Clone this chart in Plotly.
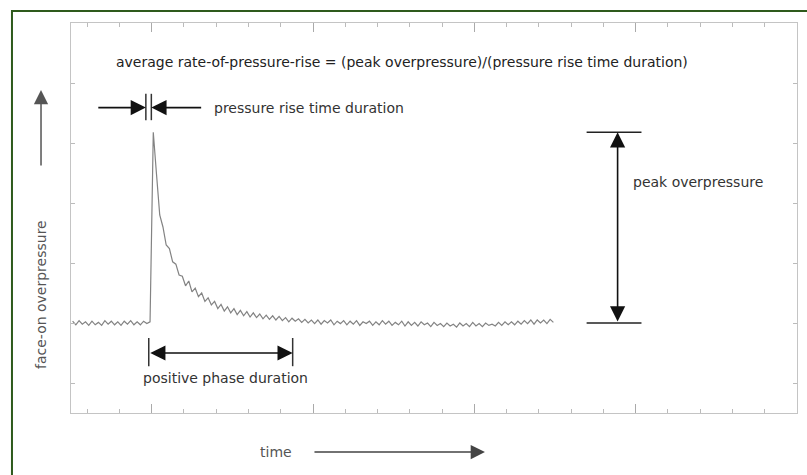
import plotly.graph_objects as go

# ---- data ----
time_start = -2.45
time_step = 0.1
pressure_pre = [0.03, -0.03, 0.04, -0.02, 0.02, -0.04, 0.03, -0.03, 0.01, -0.04,
                0.04, -0.02, 0.03, -0.03, 0.02, -0.04, 0.03, -0.02, 0.04, -0.03,
                0.02, -0.03, 0.03, -0.01, 0.02]
pressure_post = [3.18, 2.48, 1.80, 1.60, 1.30, 1.24, 1.02, 0.98, 0.80, 0.78,
                 0.62, 0.70, 0.52, 0.58, 0.44, 0.50, 0.36, 0.42, 0.30, 0.36,
                 0.24, 0.31, 0.20, 0.27, 0.17, 0.24, 0.14, 0.21, 0.12, 0.19,
                 0.10, 0.17, 0.09, 0.15, 0.07, 0.13, 0.06, 0.12, 0.05, 0.11,
                 0.04, 0.09, 0.02, 0.08, 0.03, 0.07, 0.01, 0.06, 0.00, 0.05,
                 -0.01, 0.05, -0.02, 0.04, 0.00, 0.05, -0.03, 0.03, -0.01, 0.04,
                 -0.03, 0.03, -0.02, 0.04, -0.04, 0.02, -0.01, 0.03, -0.04, 0.02,
                 -0.03, 0.04, -0.02, 0.03, -0.04, 0.01, -0.03, 0.03, -0.05, 0.02,
                 -0.04, 0.01, -0.05, 0.02, -0.03, 0.00, -0.06, 0.01, -0.04, -0.01,
                 -0.06, 0.00, -0.05, -0.02, -0.07, 0.00, -0.05, -0.01, -0.06, 0.01,
                 -0.05, -0.01, -0.06, 0.00, -0.04, -0.02, -0.05, 0.01, -0.04, 0.02,
                 -0.03, 0.02, -0.03, 0.03, -0.02, 0.04, -0.01, 0.05, -0.02, 0.05,
                 0.00, 0.05, -0.01, 0.06, 0.01]
pressure = pressure_pre + pressure_post
time = [round(time_start + i * time_step, 3) for i in range(len(pressure))]

peak_value = max(pressure)
rise_bar_left = -0.18
rise_bar_right = -0.01
phase_start = -0.09
phase_end = 4.37
x_range = [-2.5, 20]
y_range = [-1.5, 5]

FONT = "DejaVu Sans"

fig = go.Figure()
fig.add_trace(go.Scatter(x=time, y=pressure, mode="lines",
                         line=dict(color="#838383", width=1.2),
                         hoverinfo="skip", showlegend=False))

shapes = []
# outer dark green frame
shapes.append(dict(type="rect", xref="paper", yref="paper",
                   x0=-0.0813, x1=1.03, y0=-0.2, y1=1.0308,
                   line=dict(color="#2e5a1c", width=2), layer="below"))
# pressure rise time bars
for xb in (rise_bar_left, rise_bar_right):
    shapes.append(dict(type="line", xref="x", yref="y", x0=xb, x1=xb, y0=3.38, y1=3.82,
                       line=dict(color="#333", width=1.5)))
# positive phase bars
for xb in (phase_start, phase_end):
    shapes.append(dict(type="line", xref="x", yref="y", x0=xb, x1=xb, y0=-0.25, y1=-0.72,
                       line=dict(color="#333", width=1.5)))
# peak overpressure horizontal lines
for yv in (peak_value, 0):
    shapes.append(dict(type="line", xref="x", yref="y", x0=13.48, x1=15.18, y0=yv, y1=yv,
                       line=dict(color="#222", width=1.5)))

ann = []
arrow_common = dict(text="", showarrow=True, arrowhead=2, arrowsize=1.9,
                    arrowwidth=1.6, arrowcolor="#111", standoff=0, startstandoff=0)
# rise time arrows
ann.append(dict(x=rise_bar_left, y=3.59, ax=-1.70, ay=3.59, xref="x", yref="y",
                axref="x", ayref="y", **arrow_common))
ann.append(dict(x=rise_bar_right, y=3.59, ax=1.58, ay=3.59, xref="x", yref="y",
                axref="x", ayref="y", **arrow_common))
# positive phase double arrow
ann.append(dict(x=phase_end, y=-0.5, ax=phase_start, ay=-0.5, xref="x", yref="y",
                axref="x", ayref="y", arrowside="end+start", **arrow_common))
# peak overpressure double arrow
ann.append(dict(x=14.44, y=peak_value, ax=14.44, ay=0, xref="x", yref="y",
                axref="x", ayref="y", arrowside="end+start", **arrow_common))
# left vertical arrow (pixel offsets for the tail)
ann.append(dict(x=-0.0413, y=0.828, ax=0, ay=77, xref="paper", yref="paper",
                axref="pixel", ayref="pixel",
                **{**arrow_common, "arrowcolor": "#555", "arrowwidth": 1.5}))
# time arrow
ann.append(dict(x=0.5702, y=-0.1, ax=-172, ay=0, xref="paper", yref="paper",
                axref="pixel", ayref="pixel",
                **{**arrow_common, "arrowcolor": "#444", "arrowwidth": 1.5}))

# texts
ann.append(dict(text="average rate-of-pressure-rise = (peak overpressure)/(pressure rise time duration)",
                x=7.76, y=4.35, xref="x", yref="y", showarrow=False,
                xanchor="center", yanchor="middle",
                font=dict(family=FONT, size=14, color="#222")))
ann.append(dict(text="pressure rise time duration", x=1.86, y=3.58, xref="x", yref="y",
                xanchor="left", yanchor="middle", showarrow=False,
                font=dict(family=FONT, size=14, color="#333")))
ann.append(dict(text="peak overpressure", x=14.84, y=2.35, xref="x", yref="y",
                xanchor="left", yanchor="middle", showarrow=False,
                font=dict(family=FONT, size=14, color="#333")))
ann.append(dict(text="positive phase duration", x=2.28, y=-0.92, xref="x", yref="y",
                xanchor="center", yanchor="middle", showarrow=False,
                font=dict(family=FONT, size=14, color="#333")))
ann.append(dict(text="face-on overpressure", x=-0.0413, y=0.3026, xref="paper", yref="paper",
                xanchor="center", yanchor="middle",
                textangle=-90, showarrow=False, font=dict(family=FONT, size=14, color="#555")))
ann.append(dict(text="time", x=0.2817, y=-0.1, xref="paper", yref="paper",
                xanchor="center", yanchor="middle",
                showarrow=False, font=dict(family=FONT, size=14, color="#555")))

fig.update_layout(
    width=807, height=475,
    margin=dict(l=71, r=10, t=23, b=62),
    paper_bgcolor="white", plot_bgcolor="white",
    shapes=shapes, annotations=ann,
    xaxis=dict(range=x_range, showgrid=False, zeroline=False, showticklabels=False,
               showline=True, linecolor="#c4c4c4", linewidth=1, mirror="ticks",
               ticks="inside", tick0=0, dtick=5, ticklen=9, tickcolor="#aaa", tickwidth=1,
               minor=dict(ticks="inside", dtick=1, ticklen=4, tickcolor="#bbb", tickwidth=1)),
    yaxis=dict(range=y_range, showgrid=False, zeroline=False, showticklabels=False,
               showline=True, linecolor="#c4c4c4", linewidth=1, mirror="ticks",
               ticks="inside", tick0=0, dtick=1, ticklen=4, tickcolor="#bbb", tickwidth=1),
)

fig.write_html("out.html", config={"displayModeBar": False},
               post_script="document.body.style.margin='0px';document.body.style.overflow='hidden';")
